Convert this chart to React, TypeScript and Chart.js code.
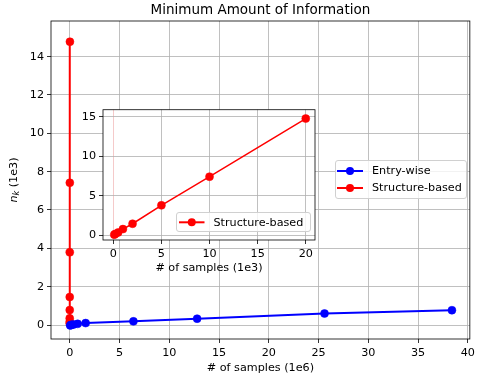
import React, { useEffect, useRef } from "react";
import { Chart, registerables } from "chart.js";
Chart.register(...registerables);

// ---- data ----
// Entry-wise: x in 1e6 samples, y in 1e3
const entryX = [0.05, 0.1, 0.2, 0.4, 0.8, 1.6, 6.4, 12.8, 25.6, 38.4];
const entryY = [-0.02, 0.0, 0.01, 0.03, 0.06, 0.1, 0.19, 0.33, 0.6, 0.77];
// Structure-based: x in 1e3 samples, y in 1e3
const structX = [0.1, 0.2, 0.5, 1, 2, 5, 10, 20];
const structY = [0.08, 0.17, 0.35, 0.78, 1.46, 3.79, 7.42, 14.78];

const mainXTicks = [0, 5, 10, 15, 20, 25, 30, 35, 40];
const mainYTicks = [0, 2, 4, 6, 8, 10, 12, 14];
const insetXTicks = [0, 5, 10, 15, 20];
const insetYTicks = [0, 5, 10, 15];

const FONT = '"DejaVu Sans", sans-serif';
const FS = 11.2;

function frame(id: string, fillBg: boolean) {
  return {
    id,
    beforeDraw(chart: any) {
      if (!fillBg) return;
      const { ctx, chartArea: a } = chart;
      ctx.save();
      ctx.fillStyle = "#ffffff";
      ctx.fillRect(a.left, a.top, a.right - a.left, a.bottom - a.top);
      ctx.restore();
    },
    afterDatasetsDraw(chart: any) {
      const { ctx, chartArea: a } = chart;
      ctx.save();
      ctx.strokeStyle = "#000";
      ctx.lineWidth = 0.8;
      ctx.strokeRect(a.left, a.top, a.right - a.left, a.bottom - a.top);
      ctx.restore();
    },
  };
}

function drawLegend(
  ctx: CanvasRenderingContext2D,
  box: { x: number; y: number; w: number; h: number },
  entries: { label: string; color: string; y: number }[],
  lineX1: number,
  lineX2: number,
  textX: number
) {
  ctx.save();
  const r = 2.5;
  ctx.beginPath();
  ctx.moveTo(box.x + r, box.y);
  ctx.lineTo(box.x + box.w - r, box.y);
  ctx.arcTo(box.x + box.w, box.y, box.x + box.w, box.y + r, r);
  ctx.lineTo(box.x + box.w, box.y + box.h - r);
  ctx.arcTo(box.x + box.w, box.y + box.h, box.x + box.w - r, box.y + box.h, r);
  ctx.lineTo(box.x + r, box.y + box.h);
  ctx.arcTo(box.x, box.y + box.h, box.x, box.y + box.h - r, r);
  ctx.lineTo(box.x, box.y + r);
  ctx.arcTo(box.x, box.y, box.x + r, box.y, r);
  ctx.closePath();
  ctx.fillStyle = "rgba(255,255,255,0.8)";
  ctx.fill();
  ctx.strokeStyle = "#d0d0d0";
  ctx.lineWidth = 1;
  ctx.stroke();
  for (const e of entries) {
    ctx.strokeStyle = e.color;
    ctx.lineWidth = 2;
    ctx.beginPath();
    ctx.moveTo(lineX1, e.y);
    ctx.lineTo(lineX2, e.y);
    ctx.stroke();
    ctx.fillStyle = e.color;
    ctx.beginPath();
    ctx.arc((lineX1 + lineX2) / 2, e.y, 4, 0, Math.PI * 2);
    ctx.fill();
    ctx.fillStyle = "#000";
    ctx.font = `${FS}px ${FONT}`;
    ctx.textAlign = "left";
    ctx.textBaseline = "middle";
    ctx.fillText(e.label, textX, e.y + 0.5);
  }
  ctx.restore();
}

function axisCommon(ticks: number[], min: number, max: number, gridColor: any = "#b0b0b0") {
  return {
    type: "linear" as const,
    min,
    max,
    afterBuildTicks: (s: any) => {
      s.ticks = ticks.map((v) => ({ value: v }));
    },
    ticks: {
      font: { family: FONT, size: FS },
      color: "#000",
      padding: 3,
      maxRotation: 0,
      autoSkip: false,
    },
    grid: {
      color: gridColor,
      lineWidth: 0.8,
      tickColor: "#000",
      tickLength: 4,
      tickWidth: 0.8,
    },
    border: { display: false },
  };
}

export default function App() {
  const mainRef = useRef<HTMLCanvasElement>(null);
  const insetRef = useRef<HTMLCanvasElement>(null);

  useEffect(() => {
    const mainTexts = {
      id: "mainTexts",
      afterDraw(chart: any) {
        const { ctx, chartArea: a } = chart;
        ctx.save();
        ctx.fillStyle = "#000";
        // title
        ctx.font = `13.5px ${FONT}`;
        ctx.textAlign = "center";
        ctx.textBaseline = "middle";
        ctx.fillText("Minimum Amount of Information", (a.left + a.right) / 2, 10);
        // x title
        ctx.font = `${FS}px ${FONT}`;
        ctx.fillText("# of samples (1e6)", (a.left + a.right) / 2, 368);
        // y title: n_k (1e3)
        ctx.translate(14, (a.top + a.bottom) / 2);
        ctx.rotate(-Math.PI / 2);
        ctx.textAlign = "left";
        ctx.font = `italic ${FS}px ${FONT}`;
        const wn = ctx.measureText("n").width;
        ctx.font = `italic 8px ${FONT}`;
        const wk = ctx.measureText("k").width;
        ctx.font = `${FS}px ${FONT}`;
        const wr = ctx.measureText(" (1e3)").width;
        let x = -(wn + wk + wr) / 2;
        ctx.font = `italic ${FS}px ${FONT}`;
        ctx.fillText("n", x, 0);
        x += wn;
        ctx.font = `italic 8px ${FONT}`;
        ctx.fillText("k", x, 2.5);
        x += wk;
        ctx.font = `${FS}px ${FONT}`;
        ctx.fillText(" (1e3)", x, 0);
        ctx.restore();
        drawLegend(
          ctx,
          { x: 335.5, y: 160.5, w: 131, h: 38 },
          [
            { label: "Entry-wise", color: "#0000ff", y: 171 },
            { label: "Structure-based", color: "#ff0000", y: 188 },
          ],
          337,
          363,
          372
        );
      },
    };

    const mainX = axisCommon(mainXTicks, -1.88, 40.2);
    const mainY = axisCommon(mainYTicks, -0.73, 15.86);
    const main = new Chart(mainRef.current!, {
      type: "line",
      data: {
        datasets: [
          {
            label: "Entry-wise",
            data: entryX.map((x, i) => ({ x, y: entryY[i] })),
            borderColor: "#0000ff",
            backgroundColor: "#0000ff",
            borderWidth: 2,
            pointRadius: 4,
            pointBorderWidth: 0.5,
            pointHoverRadius: 4,
            tension: 0,
          },
          {
            label: "Structure-based",
            data: structX.map((x, i) => ({ x: x / 1000, y: structY[i] })),
            borderColor: "#ff0000",
            backgroundColor: "#ff0000",
            borderWidth: 2,
            pointRadius: 4,
            pointBorderWidth: 0.5,
            pointHoverRadius: 4,
            tension: 0,
          },
        ],
      },
      options: {
        responsive: false,
        animation: false,
        parsing: false as any,
        events: [],
        layout: { padding: { top: 21, right: 4, left: 0, bottom: 0 } },
        plugins: { legend: { display: false }, title: { display: false }, tooltip: { enabled: false } },
        scales: {
          x: { ...mainX, afterFit: (s: any) => { s.height = 42; } },
          y: { ...mainY, afterFit: (s: any) => { s.width = 51; } },
        },
      },
      plugins: [frame("mainFrame", false), mainTexts],
    });

    const insetTexts = {
      id: "insetTexts",
      afterDraw(chart: any) {
        const { ctx, chartArea: a } = chart;
        ctx.save();
        ctx.fillStyle = "#000";
        ctx.font = `${FS}px ${FONT}`;
        ctx.textAlign = "center";
        ctx.textBaseline = "middle";
        ctx.fillText("# of samples (1e3)", (a.left + a.right) / 2, 168.5);
        ctx.restore();
        drawLegend(
          ctx,
          { x: 106.5, y: 112.5, w: 134, h: 19 },
          [{ label: "Structure-based", color: "#ff0000", y: 122.3 }],
          109,
          134.5,
          143.5
        );
      },
    };

    const insX = axisCommon(insetXTicks, -1.07, 20.96, (c: any) =>
      c.tick && c.tick.value === 0 ? "#f2bcbc" : "#b0b0b0"
    );
    const insY = axisCommon(insetYTicks, -0.6, 15.9);
    const inset = new Chart(insetRef.current!, {
      type: "line",
      data: {
        datasets: [
          {
            label: "Structure-based",
            data: structX.map((x, i) => ({ x, y: structY[i] })),
            borderColor: "#ff0000",
            backgroundColor: "#ff0000",
            borderWidth: 1.5,
            pointRadius: 4,
            pointBorderWidth: 0.5,
            pointHoverRadius: 4,
            tension: 0,
          },
        ],
      },
      options: {
        responsive: false,
        animation: false,
        parsing: false as any,
        events: [],
        layout: { padding: { top: 9, right: 5, left: 0, bottom: 0 } },
        plugins: { legend: { display: false }, title: { display: false }, tooltip: { enabled: false } },
        scales: {
          x: { ...insX, afterFit: (s: any) => { s.height = 40; } },
          y: { ...insY, afterFit: (s: any) => { s.width = 33; } },
        },
      },
      plugins: [frame("insetFrame", true), insetTexts],
    });

    return () => {
      main.destroy();
      inset.destroy();
    };
  }, []);

  return (
    <div style={{ position: "fixed", left: 0, top: 0, width: 478, height: 381, background: "#fff" }}>
      <canvas ref={mainRef} width={478} height={381} style={{ position: "absolute", left: 0, top: 0 }} />
      <canvas ref={insetRef} width={250} height={180} style={{ position: "absolute", left: 70, top: 100 }} />
    </div>
  );
}
